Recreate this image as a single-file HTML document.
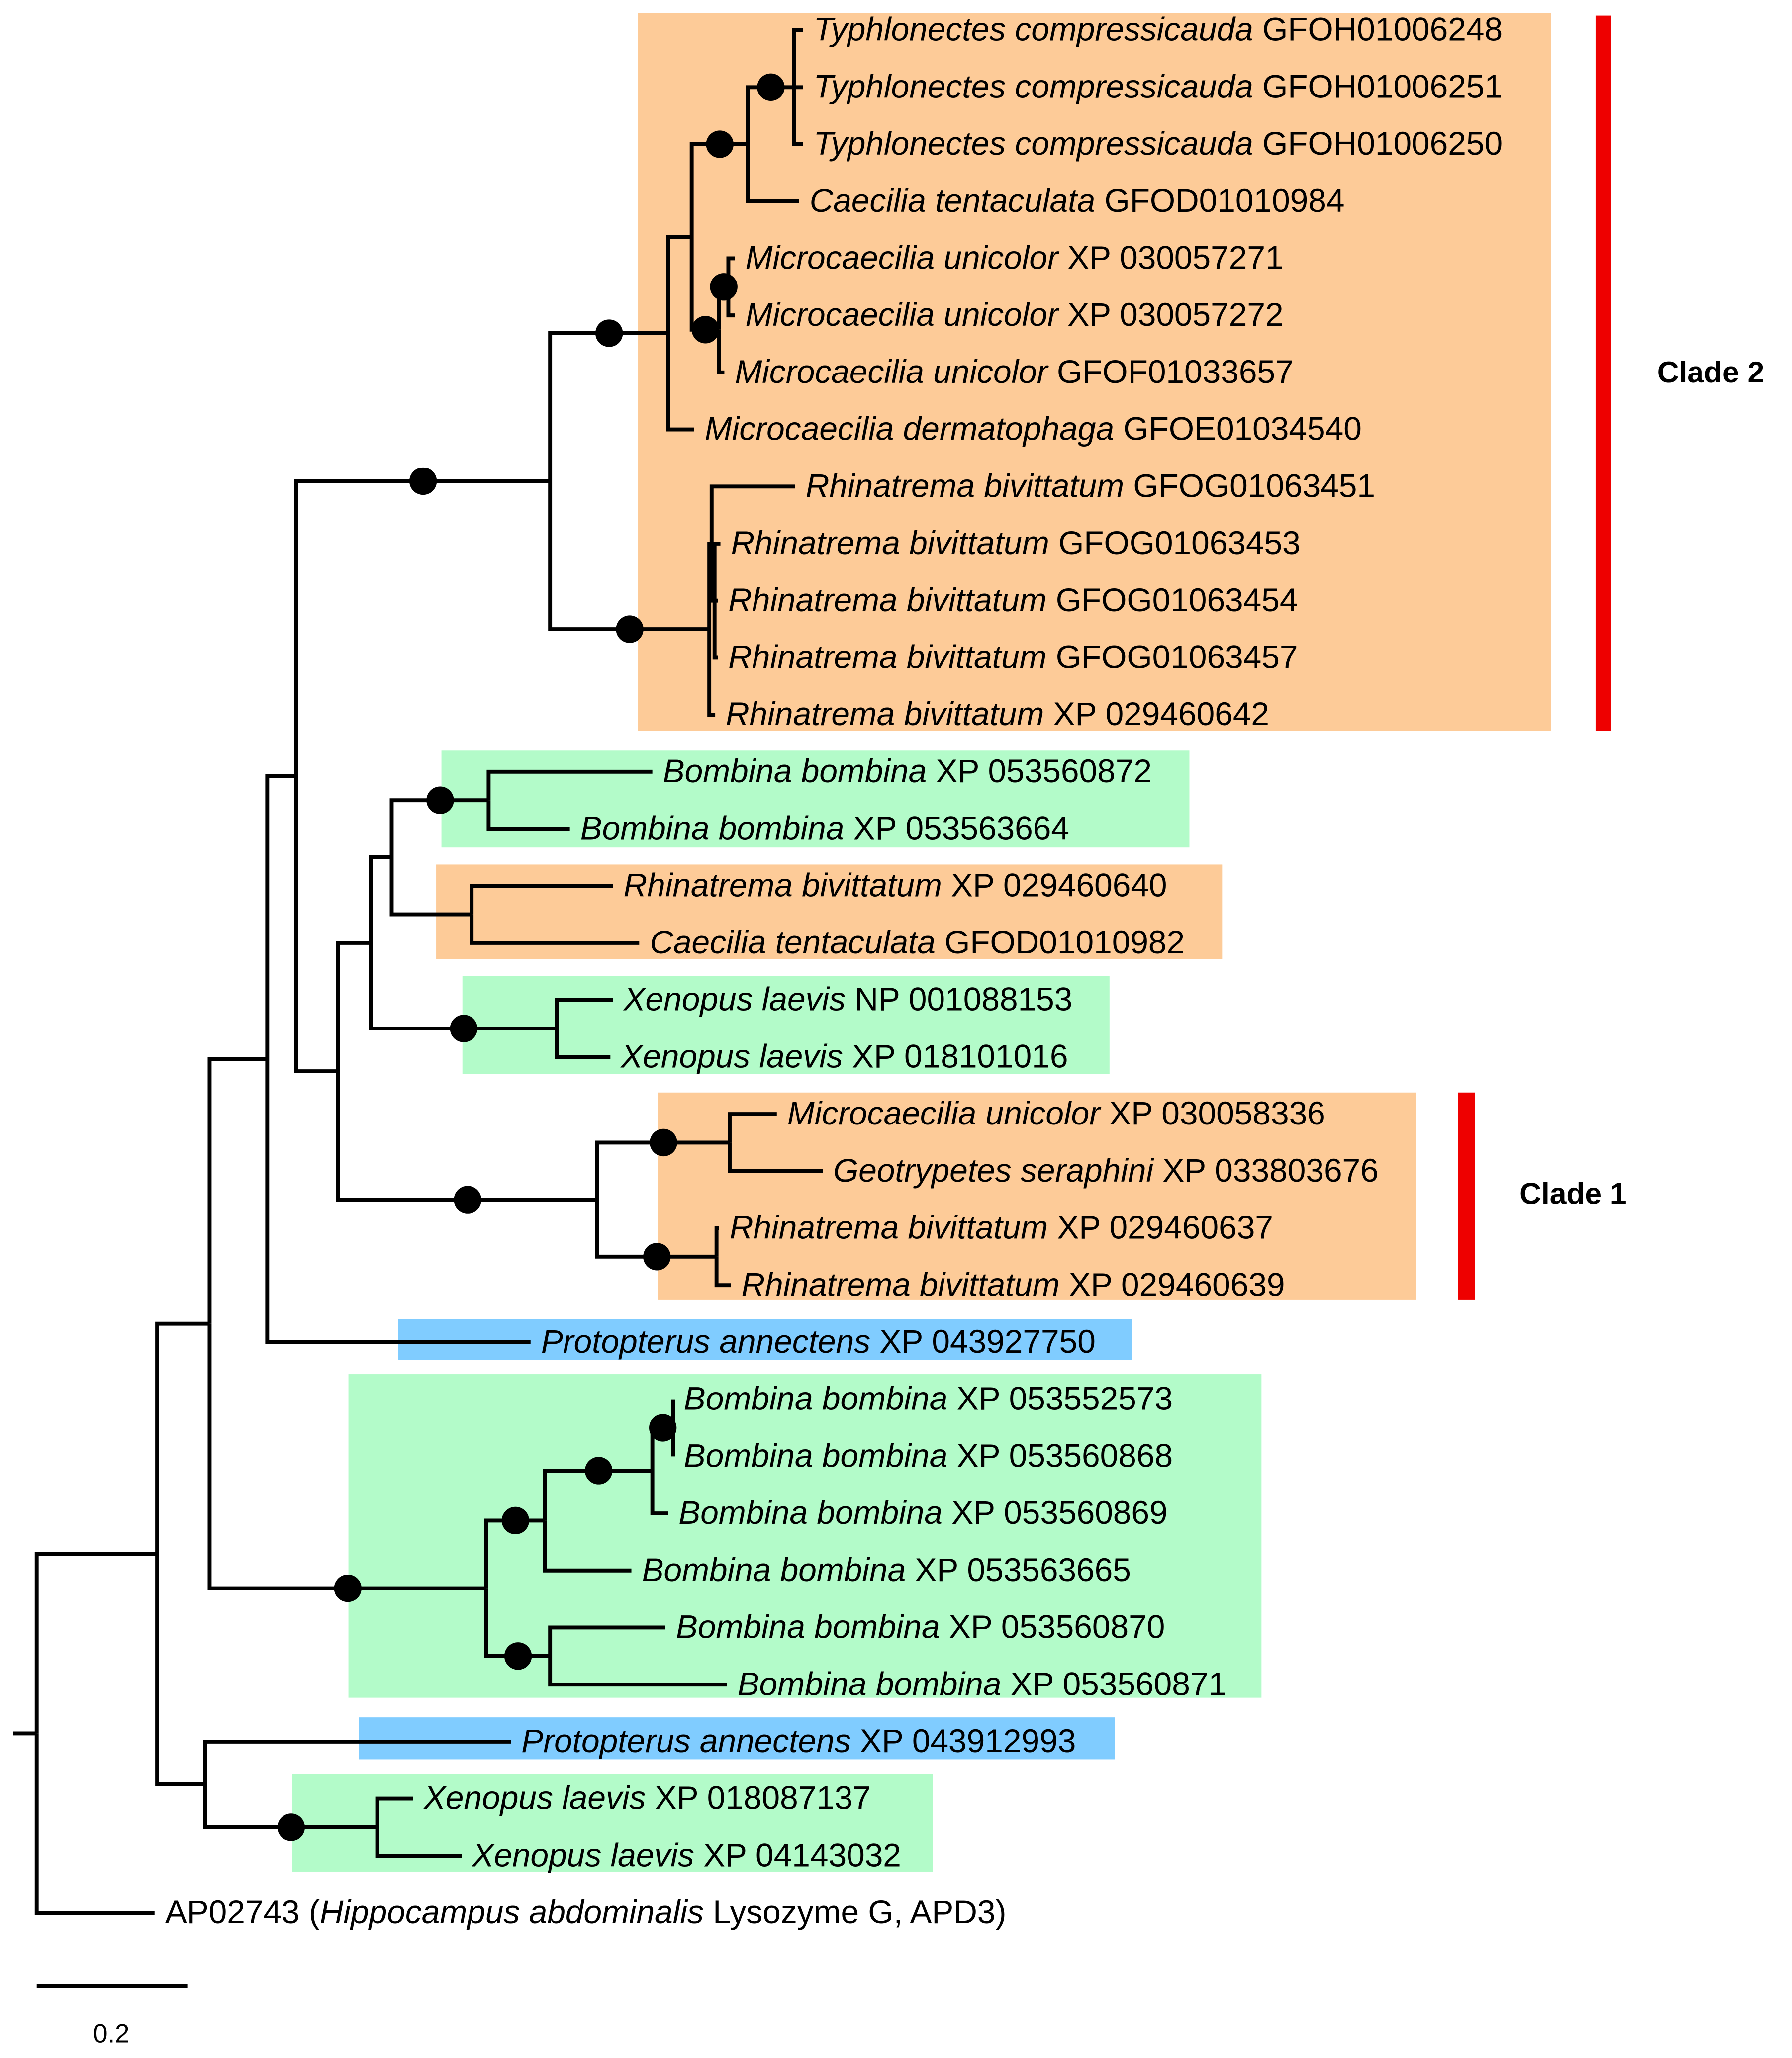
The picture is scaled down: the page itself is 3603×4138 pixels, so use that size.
<!DOCTYPE html>
<html><head><meta charset="utf-8"><style>
html,body{margin:0;padding:0;background:#fff;}
svg{display:block;}
text{font-family:"Liberation Sans",Arial,sans-serif;}
</style></head><body>
<svg id="chart" width="3603" height="4138" viewBox="0 0 1368 1571" preserveAspectRatio="none" xmlns="http://www.w3.org/2000/svg">
<g id="bg">
<rect x="487" y="10" width="697" height="548" fill="#FDCB98"/>
<rect x="337" y="573" width="571" height="74" fill="#B3FBC9"/>
<rect x="333" y="660" width="600" height="72" fill="#FDCB98"/>
<rect x="353" y="745" width="494" height="75" fill="#B3FBC9"/>
<rect x="502" y="834" width="579" height="158" fill="#FDCB98"/>
<rect x="304" y="1007" width="560" height="31" fill="#80CCFF"/>
<rect x="266" y="1049" width="697" height="247" fill="#B3FBC9"/>
<rect x="274" y="1311" width="577" height="32" fill="#80CCFF"/>
<rect x="223" y="1354" width="489" height="75" fill="#B3FBC9"/>
</g>
<rect x="1218" y="12" width="12" height="546" fill="#EE0000"/>
<rect x="1113" y="834" width="13" height="158" fill="#EE0000"/>
<text x="1265" y="292" font-size="23" font-weight="bold">Clade 2</text>
<text x="1160" y="919" font-size="23" font-weight="bold">Clade 1</text>
<g id="tree"></g>
<g id="labels"></g>
<line x1="28" y1="1516" x2="143" y2="1516" stroke="#000" stroke-width="3"/>
<text x="85" y="1559" font-size="20" text-anchor="middle">0.2</text>
</svg>
<script>
const leafSpecies = ["Typhlonectes compressicauda","Typhlonectes compressicauda","Typhlonectes compressicauda","Caecilia tentaculata","Microcaecilia unicolor","Microcaecilia unicolor","Microcaecilia unicolor","Microcaecilia dermatophaga","Rhinatrema bivittatum","Rhinatrema bivittatum","Rhinatrema bivittatum","Rhinatrema bivittatum","Rhinatrema bivittatum","Bombina bombina","Bombina bombina","Rhinatrema bivittatum","Caecilia tentaculata","Xenopus laevis","Xenopus laevis","Microcaecilia unicolor","Geotrypetes seraphini","Rhinatrema bivittatum","Rhinatrema bivittatum","Protopterus annectens","Bombina bombina","Bombina bombina","Bombina bombina","Bombina bombina","Bombina bombina","Bombina bombina","Protopterus annectens","Xenopus laevis","Xenopus laevis","Hippocampus abdominalis"];
const leafAccession = ["GFOH01006248","GFOH01006251","GFOH01006250","GFOD01010984","XP 030057271","XP 030057272","GFOF01033657","GFOE01034540","GFOG01063451","GFOG01063453","GFOG01063454","GFOG01063457","XP 029460642","XP 053560872","XP 053563664","XP 029460640","GFOD01010982","NP 001088153","XP 018101016","XP 030058336","XP 033803676","XP 029460637","XP 029460639","XP 043927750","XP 053552573","XP 053560868","XP 053560869","XP 053563665","XP 053560870","XP 053560871","XP 043912993","XP 018087137","XP 04143032",""];
// node depth in tree distance units (0.2 per scale bar)
const nodeDepth = [1.0174,1.0174,1.0174,1.0122,0.9270,0.9270,0.9130,0.8730,1.0070,0.9078,0.9043,0.9043,0.9009,0.8174,0.7078,0.7652,0.8000,0.7652,0.7617,0.9826,1.0435,0.9061,0.9217,0.6557,0.8452,0.8452,0.8383,0.7896,0.8348,0.9165,0.6296,0.5000,0.5643,0.1565,
1.0052,0.9443,0.8696,0.9183,0.9061,0.8383,0.6817,0.9000,0.8961,0.8930,0.6000,0.5774,0.4713,0.6904,0.4435,0.9200,0.9026,0.7443,0.4000,0.3443,0.3061,0.8452,0.8174,0.6748,0.6817,0.5965,0.2296,0.4522,0.2235,0.1600,0];
const nodeParent = [34,34,34,35,37,37,38,39,42,41,41,41,43,44,44,45,45,47,47,49,49,50,50,54,55,55,56,57,58,58,62,61,61,64,
35,36,39,38,36,40,53,42,43,40,46,46,48,48,52,51,51,52,53,54,60,56,57,59,59,60,63,62,63,64,-1];
const nodeHasDot = [0,0,0,0,0,0,0,0,0,0,0,0,0,0,0,0,0,0,0,0,0,0,0,0,0,0,0,0,0,0,0,0,0,0,
1,1,0,1,1,1,1,0,0,1,1,0,0,1,0,1,1,1,0,0,0,1,1,1,1,1,0,1,0,0,0];
const x0 = 28, unit = 575;
const xScale = d => x0 + d * unit;
const yScale = i => 23 + i * 43.55;
const NS = "http://www.w3.org/2000/svg";
const nLeaf = leafSpecies.length;
const ys = [];
for (let i = 0; i < nodeDepth.length; i++) ys[i] = i < nLeaf ? yScale(i) : null;
function yOf(i){ if (ys[i]!==null) return ys[i]; const ch=[]; for(let j=0;j<nodeParent.length;j++) if(nodeParent[j]===i) ch.push(yOf(j)); ys[i]=(Math.min(...ch)+Math.max(...ch))/2; return ys[i]; }
for (let i = 0; i < nodeDepth.length; i++) yOf(i);
const tree = document.getElementById('tree');
const dots = [];
for (let i = 0; i < nodeDepth.length; i++) {
  const p = nodeParent[i];
  if (p < 0) {
    const ln = document.createElementNS(NS,'line');
    ln.setAttribute('x1',10); ln.setAttribute('x2',xScale(0)); ln.setAttribute('y1',ys[i]); ln.setAttribute('y2',ys[i]);
    ln.setAttribute('stroke','#000'); ln.setAttribute('stroke-width',3);
    
    
    tree.appendChild(ln);
    continue;
  }
  const pl = document.createElementNS(NS,'polyline');
  pl.setAttribute('points', `${xScale(nodeDepth[p])},${ys[p]} ${xScale(nodeDepth[p])},${ys[i]} ${xScale(nodeDepth[i])},${ys[i]}`);
  pl.setAttribute('fill','none'); pl.setAttribute('stroke','#000'); pl.setAttribute('stroke-width',3); pl.setAttribute('stroke-linejoin','miter');
  
  
  tree.appendChild(pl);
  if (nodeHasDot[i]) dots.push([(xScale(nodeDepth[p])+xScale(nodeDepth[i]))/2, ys[i]]);
}
dots.forEach(d => {
  const c = document.createElementNS(NS,'circle');
  c.setAttribute('cx',d[0]); c.setAttribute('cy',d[1]); c.setAttribute('r',10.5); c.setAttribute('fill','#000');
  
  
  tree.appendChild(c);
});
const labels = document.getElementById('labels');
for (let i = 0; i < nLeaf; i++) {
  const t = document.createElementNS(NS,'text');
  t.setAttribute('x', xScale(nodeDepth[i]) + 8);
  t.setAttribute('y', ys[i] + 8);
  t.setAttribute('font-size', 25);
  
  
  if (i === nLeaf - 1) {
    t.appendChild(document.createTextNode('AP02743 ('));
    const it = document.createElementNS(NS,'tspan'); it.setAttribute('font-style','italic'); it.textContent = leafSpecies[i];
    t.appendChild(it);
    t.appendChild(document.createTextNode(' Lysozyme G, APD3)'));
  } else {
    const it = document.createElementNS(NS,'tspan'); it.setAttribute('font-style','italic'); it.textContent = leafSpecies[i];
    t.appendChild(it);
    t.appendChild(document.createTextNode(' ' + leafAccession[i]));
  }
  labels.appendChild(t);
}
</script>
</body></html>
